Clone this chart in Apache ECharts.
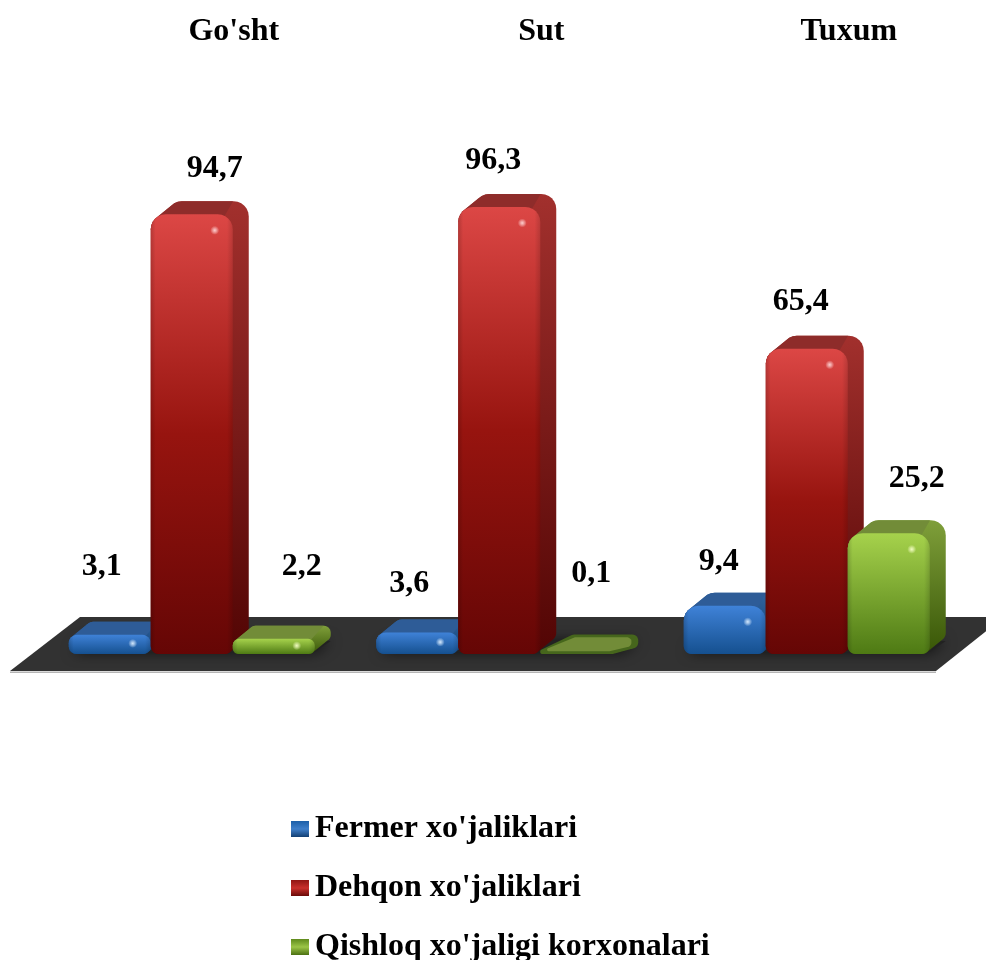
<!DOCTYPE html>
<html>
<head>
<meta charset="utf-8">
<style>html,body{margin:0;padding:0;background:#fff}#c{width:986px;height:960px}</style>
<script src="https://cdn.jsdelivr.net/npm/echarts@6/dist/echarts.min.js"></script>
</head>
<body>
<div id="c"></div>
<script>
var categories = ["Go'sht", "Sut", "Tuxum"];
var fermer = [3.1, 3.6, 9.4];
var dehqon = [94.7, 96.3, 65.4];
var qishloq = [2.2, 0.1, 25.2];
var seriesNames = ["Fermer xo'jaliklari", "Dehqon xo'jaliklari", "Qishloq xo'jaligi korxonalari"];

// layout only: label nudges [dx, dy] from the top-centre of each bar's front face
var labelNudges = [
  [[-8, -68], [-8, -49], [-6, -44]],
  [[23, -46], [-6, -46], [-6, -47]],
  [[28, -72], [10, -75], [28, -55]]
];
var palettes = [
  {front: ['#3f82d8', '#15508f'], side: ['#2f639f', '#123f70'], top: '#2e5c97', glow: '220,238,255', flat: '#1c4a80'},
  {front: ['#dc4745', '#97140f', '#650605'], side: ['#a2302d', '#520504'], top: '#8e2c2a', glow: '255,214,214', flat: '#6a0a08'},
  {front: ['#a6d24c', '#4e7a14'], side: ['#7f9f3a', '#385606'], top: '#728c38', glow: '246,255,200', flat: '#46661c'}
];
var DX = 16, DY = -13, BAR_SHARE = 82 / 307.5, CENTER_SHIFT = -42;
var FONT = '"Liberation Serif","Times New Roman",serif';

function arc(cx, cy, r, a0, a1, pts) {
  for (var i = 0; i <= 6; i++) {
    var a = (a0 + (a1 - a0) * i / 6) * Math.PI / 180;
    pts.push([cx + r * Math.cos(a), cy + r * Math.sin(a)]);
  }
  return pts;
}
function roundRect(x, y, w, h, rt, rb) {
  var p = [];
  arc(x + rt, y + rt, rt, 180, 270, p);
  arc(x + w - rt, y + rt, rt, 270, 360, p);
  arc(x + w - rb, y + h - rb, rb, 0, 90, p);
  arc(x + rb, y + h - rb, rb, 90, 180, p);
  return p;
}
function hull(points) {
  var s = points.slice().sort(function (a, b) { return a[0] - b[0] || a[1] - b[1]; });
  function cross(o, a, b) { return (a[0]-o[0])*(b[1]-o[1]) - (a[1]-o[1])*(b[0]-o[0]); }
  var lo = [], up = [];
  s.forEach(function (p) { while (lo.length > 1 && cross(lo[lo.length-2], lo[lo.length-1], p) <= 0) lo.pop(); lo.push(p); });
  s.slice().reverse().forEach(function (p) { while (up.length > 1 && cross(up[up.length-2], up[up.length-1], p) <= 0) up.pop(); up.push(p); });
  return lo.slice(0, -1).concat(up.slice(0, -1));
}
function vGrad(colors) {
  return new echarts.graphic.LinearGradient(0, 0, 0, 1, colors.map(function (c, i) {
    return {offset: i / (colors.length - 1), color: c};
  }));
}
function renderBar(si) {
  return function (params, api) {
    var c = api.value(0), v = api.value(1);
    var bandW = api.size([1, 0])[0], w = bandW * BAR_SHARE;
    var top = api.coord([c, v]), base = api.coord([c, Y_MIN]);
    var x = top[0] + CENTER_SHIFT + (si - 1) * w - w / 2, y = top[1], h = base[1] - y;
    var rt = Math.min(15, h * 0.45), rb = Math.min(8, h * 0.4);
    var pal = palettes[si];
    var cx = x + w / 2, n = labelNudges[si][c];
    var kids = [];
    if (h < 10) {
      // an almost empty bar: a flat slab seen from above
      var slab = hull(roundRect(x, y + 1, w - 8, h - 1, 2, 2).concat(roundRect(x + DX + 12, y + DY - 1, w - 12, 14, 6, 6)));
      var mx = x + w / 2 + DX / 2, my = base[1] - 10;
      var inner = slab.map(function (p) { return [mx + (p[0] - mx) * 0.86, my + (p[1] - my) * 0.72]; });
      kids.push({type: 'polygon', shape: {points: slab}, style: {fill: pal.flat}});
      kids.push({type: 'polygon', shape: {points: inner}, style: {fill: pal.top}});
    } else {
      var front = roundRect(x, y, w, h, rt, rb);
      var back = roundRect(x + DX, y + DY, w, h, rt, rb);
      var topPts = [];
      arc(x + rt, y + rt, rt, 180, 270, topPts);
      arc(x + DX + rt, y + DY + rt, rt, 180, 270, topPts);
      topPts.push([x + w + DX - rt * 1.05, y + DY], [x + w - rt * 0.55, y + rt * 0.12]);
      kids.push(
        {type: 'polygon', shape: {points: hull(front.concat(back))}, style: {fill: vGrad(pal.side)}},
        {type: 'polygon', shape: {points: hull(topPts)}, style: {fill: pal.top}},
        {type: 'polygon', shape: {points: front}, style: {fill: vGrad(pal.front)}},
        {type: 'polygon', shape: {points: front}, style: {fill: new echarts.graphic.LinearGradient(0, 0, 1, 0, [
          {offset: 0, color: 'rgba(0,0,0,0.16)'}, {offset: 0.06, color: 'rgba(0,0,0,0)'},
          {offset: 0.93, color: 'rgba(0,0,0,0)'}, {offset: 1, color: 'rgba(0,0,0,0.14)'}])}}
      );
      kids.push({type: 'circle', shape: {cx: x + w - 18, cy: y + Math.min(16, h * 0.45), r: 4.5},
        style: {fill: new echarts.graphic.RadialGradient(0.5, 0.5, 0.5, [
          {offset: 0, color: 'rgba(' + pal.glow + ',0.95)'}, {offset: 0.4, color: 'rgba(' + pal.glow + ',0.6)'},
          {offset: 1, color: 'rgba(' + pal.glow + ',0)'}])}});
    }
    kids.push({type: 'text', style: {
      text: String(v).replace('.', ','), x: cx + n[0], y: y + n[1],
      font: 'bold 32px ' + FONT, fill: '#000', textAlign: 'center', textVerticalAlign: 'middle'
    }});
    return {type: 'group', children: kids};
  };
}
function renderFloor(params, api) {
  var cs = params.coordSys, by = cs.y + cs.height;
  var pts = [[10, by + 17], [80, by - 37], [1004, by - 37], [936, by + 17]];
  var kids = [
    {type: 'polygon', shape: {points: [[10, by + 17.5], [936, by + 17.5], [936, by + 19], [10, by + 19]]}, style: {fill: '#b5b5b5'}},
    {type: 'polygon', shape: {points: pts}, style: {fill: '#323232'}}
  ];
  categories.forEach(function (name, c) {
    var p = api.coord([c, Y_MIN]), w = api.size([1, 0])[0] * BAR_SHARE;
    var x0 = p[0] + CENTER_SHIFT - 1.5 * w, x1 = x0 + 3 * w + DX;
    kids.push({type: 'polygon',
      shape: {points: [[x0 + 4, by - 2], [x0 + DX, by + DY], [x1, by + DY], [x1 - DX, by - 2]]},
      style: {fill: '#222', shadowBlur: 14, shadowColor: 'rgba(0,0,0,0.75)'}});
  });
  return {type: 'group', children: kids};
}
var Y_MIN = -1.1, Y_MAX = 100;
var allValues = [fermer, dehqon, qishloq];
var barSeries = allValues.map(function (vals, si) {
  return {
    name: seriesNames[si], type: 'custom', renderItem: renderBar(si), clip: false,
    encode: {x: 0, y: 1}, itemStyle: {color: palettes[si].front[0]},
    data: vals.map(function (v, c) { return [c, v]; })
  };
});
var legendIcons = [['#1c5fa8', '#3f7fca', '#123f73'], ['#8f1512', '#c9302c', '#6a0a08'], ['#5f8a1c', '#9cc548', '#4b7012']];
var chart = echarts.init(document.getElementById('c'));
chart.setOption({
  animation: false,
  backgroundColor: '#fff',
  grid: {left: 80, top: 190, width: 922.5, height: 464, outerBoundsMode: 'none'},
  xAxis: {type: 'category', data: categories, position: 'top',
    axisLine: {show: false}, axisTick: {show: false}, splitLine: {show: false},
    axisLabel: {margin: 142, color: '#000', fontFamily: FONT, fontWeight: 'bold', fontSize: 32, interval: 0}},
  yAxis: {type: 'value', min: Y_MIN, max: Y_MAX, show: false},
  legend: {
    orient: 'vertical', left: 286, top: 808, height: 220, itemWidth: 18, itemHeight: 16, itemGap: 27, selectedMode: false,
    textStyle: {color: '#000', fontFamily: FONT, fontWeight: 'bold', fontSize: 32, padding: [0, 0, 0, 1]},
    data: seriesNames.map(function (n, i) {
      return {name: n, icon: 'rect', itemStyle: {color: new echarts.graphic.LinearGradient(0, 0, 0, 1, [
        {offset: 0, color: legendIcons[i][0]}, {offset: 0.5, color: legendIcons[i][1]}, {offset: 1, color: legendIcons[i][2]}])}};
    })
  },
  series: [{name: 'floor', type: 'custom', renderItem: renderFloor, clip: false, silent: true, data: [[0, 0]], encode: {x: 0, y: 1}}].concat(barSeries)
});
</script>
</body>
</html>
